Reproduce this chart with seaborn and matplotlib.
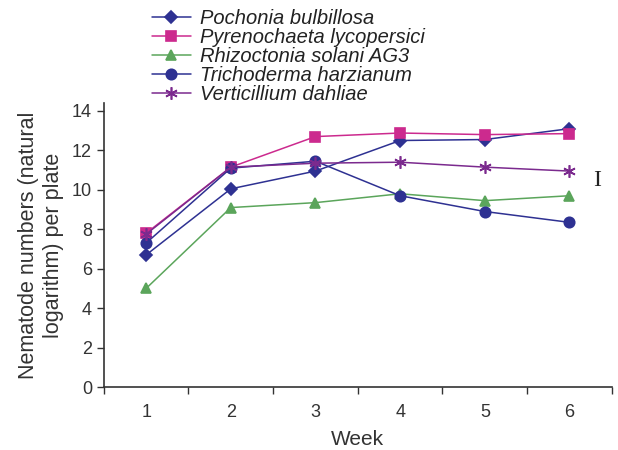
import numpy as np
import pandas as pd
import matplotlib
matplotlib.use("Agg")
import matplotlib.pyplot as plt
import seaborn as sns

weeks = [1, 2, 3, 4, 5, 6]
pochonia = [6.7, 10.05, 10.95, 12.5, 12.55, 13.1]
pyrenochaeta = [7.8, 11.15, 12.7, 12.88, 12.8, 12.85]
rhizoctonia = [5.0, 9.1, 9.35, 9.8, 9.45, 9.7]
trichoderma = [7.3, 11.1, 11.45, 9.7, 8.9, 8.35]
verticillium = [7.75, 11.15, 11.35, 11.4, 11.15, 10.95]

series = {
    "Pochonia bulbillosa": (pochonia, "#2E3192", "D", 6),
    "Pyrenochaeta lycopersici": (pyrenochaeta, "#CC2A8E", "s", 6.5),
    "Rhizoctonia solani AG3": (rhizoctonia, "#5BA55B", "^", 7.5),
    "Trichoderma harzianum": (trichoderma, "#2E3192", "o", 7.5),
    "Verticillium dahliae": (verticillium, "#7B2A8E", (6, 2, 0), 9),
}

sns.set_style("ticks")
plt.rcParams["font.family"] = ["Liberation Sans", "DejaVu Sans"]

fig = plt.figure(figsize=(6.18, 4.5), dpi=100)
ax = fig.add_axes([0.168, 0.14, 0.822, 0.631])

for nome, (vals, cor, marc, tam) in series.items():
    df = pd.DataFrame({"week": weeks, "val": vals})
    sns.lineplot(data=df, x="week", y="val", ax=ax, color=cor, marker=marc,
                 markersize=tam, markeredgecolor=cor, markeredgewidth=1.2,
                 linewidth=1.1, label=nome)

ax.set_xlim(0.5, 6.5)
ax.set_ylim(0, 14.4)
ax.set_xticks(weeks)
ax.set_xticklabels([str(w) for w in weeks])
ax.set_xticks(np.arange(0.5, 6.6, 1), minor=True)
ax.tick_params(axis="x", which="major", length=0, labelsize=13, pad=12, colors="#333333")
ax.tick_params(axis="x", which="minor", length=5, width=1, direction="out", color="#333333")
ax.set_yticks(range(0, 15, 2))
ax.tick_params(axis="y", length=5, width=1, direction="out", labelsize=13, colors="#333333")
for lado in ["top", "right"]:
    ax.spines[lado].set_visible(False)
for lado in ["left", "bottom"]:
    ax.spines[lado].set_color("#333333")
    ax.spines[lado].set_linewidth(1.2)

ax.set_xlabel("Week", fontsize=15, color="#333333", labelpad=7)
ax.set_ylabel("Nematode numbers (natural\nlogarithm) per plate", fontsize=15.5,
              color="#333333", labelpad=6)

ax.text(6.33, 10.45, "I", family="Liberation Serif", fontsize=17, ha="center",
        va="center", color="#222222")

handles, labels = ax.get_legend_handles_labels()
ax.get_legend().remove()
fig.legend(handles, labels, loc="upper left", bbox_to_anchor=(0.226, 1.007),
           frameon=False, prop={"style": "italic", "size": 14.5},
           handlelength=1.95, handletextpad=0.45, labelspacing=0.0,
           borderpad=0.1, labelcolor="#222222")

fig.savefig("out.png", dpi=100)
